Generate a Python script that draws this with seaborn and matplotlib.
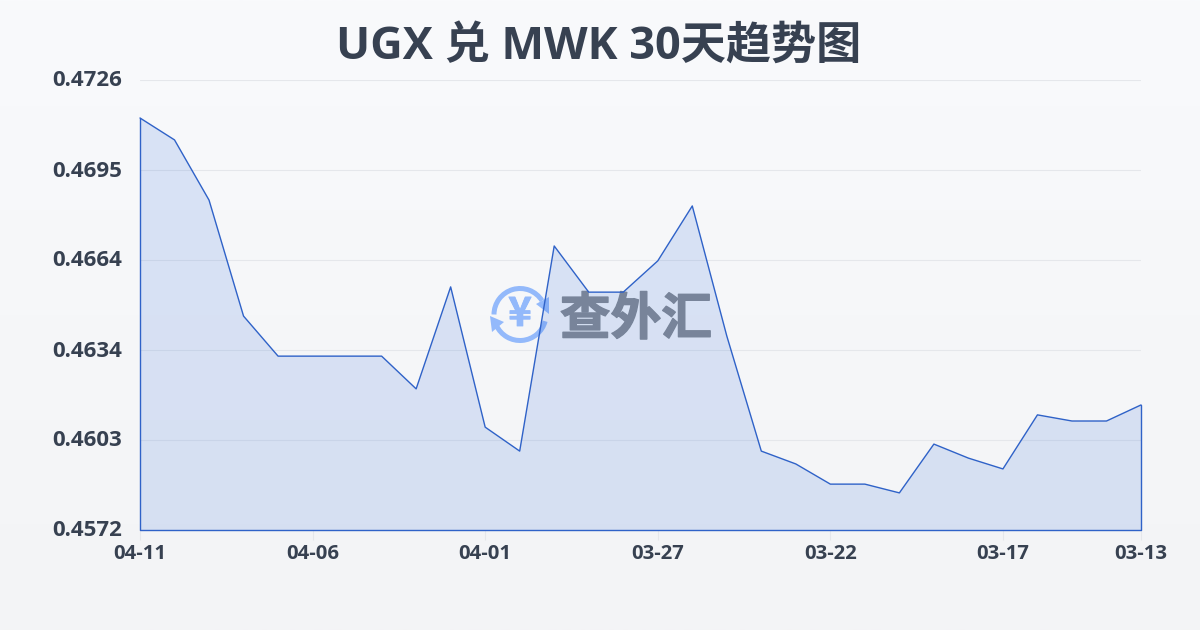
import numpy as np
import matplotlib
matplotlib.use("Agg")
import matplotlib.pyplot as plt
import matplotlib.patheffects as pe
from matplotlib.patches import Arc, Polygon
from matplotlib.colors import LinearSegmentedColormap
from matplotlib.transforms import ScaledTranslation
import pandas as pd
import seaborn as sns

dates = ["04-11","04-10","04-09","04-08","04-07","04-06","04-05","04-04","04-03","04-02",
         "04-01","03-31","03-30","03-29","03-28","03-27","03-26","03-25","03-24","03-23",
         "03-22","03-21","03-20","03-19","03-18","03-17","03-16","03-15","03-14","03-13"]
rates = [0.4713,0.47055,0.46849,0.46452,0.46315,0.46315,0.46315,0.46315,0.46203,0.46552,
         0.46072,0.4599,0.46692,0.46534,0.46534,0.46641,0.46829,0.46384,0.4599,0.45946,
         0.45877,0.45877,0.45847,0.46014,0.45966,0.45929,0.46114,0.46093,0.46093,0.46148]
ytick_values = [0.4572,0.46028,0.46336,0.46644,0.46952,0.4726]
ytick_labels = ["0.4572","0.4603","0.4634","0.4664","0.4695","0.4726"]
xtick_labels = ["04-11","04-06","04-01","03-27","03-22","03-17","03-13"]
title = "UGX 兑 MWK 30天趋势图"
watermark = "查外汇"

sns.set_theme(style="white")
plt.rcParams['font.family'] = ['Open Sans', 'Noto Sans CJK SC', 'DejaVu Sans']
INK = "#374151"
LINE = "#2f62c8"

fig = plt.figure(figsize=(12, 6.3), dpi=100)
W, H = 1200, 630

bg = fig.add_axes([0, 0, 1, 1], zorder=0)
cmap = LinearSegmentedColormap.from_list("bg", ["#f9fafc", "#f3f4f6"])
bg.imshow(np.linspace(0, 1, 256)[:, None], aspect="auto", cmap=cmap, extent=[0, 1, 0, 1])
bg.axis("off")

ax = fig.add_axes([140/W, 1-530/H, 1001/W, 450/H], zorder=2)
ax.patch.set_alpha(0)
df = pd.DataFrame({"date": dates, "rate": rates, "pos": np.arange(len(dates))})
ax.yaxis.grid(True, color="#e5e7eb", lw=0.8)
ax.set_axisbelow(True)
ax.fill_between(df["pos"], df["rate"], ytick_values[0], facecolor=(0.23, 0.45, 0.86, 0.16),
                edgecolor="none", zorder=2)
ax.plot([0, 0, len(dates)-1, len(dates)-1], [rates[0], ytick_values[0], ytick_values[0], rates[-1]],
        color=LINE, lw=1, zorder=3, clip_on=False)
sns.lineplot(data=df, x="pos", y="rate", ax=ax, color=LINE, lw=1, zorder=3, clip_on=False,
             errorbar=None, sort=False)
ax.set_xlim(0, len(dates)-1)
ax.set_ylim(ytick_values[0], ytick_values[-1])
ax.set_xlabel(""); ax.set_ylabel("")
ax.set_yticks(ytick_values, ytick_labels)
ax.set_xticks([dates.index(d) for d in xtick_labels], xtick_labels)
ax.tick_params(axis="y", length=0, pad=13, labelsize=16, labelcolor=INK)
ax.tick_params(axis="x", length=7.2, width=0.8, color="#e5e7eb", pad=3, labelsize=14.6, labelcolor=INK, bottom=True)
for t in ax.get_xticklabels() + ax.get_yticklabels():
    t.set_fontweight("bold")
shift_up = ScaledTranslation(0, 1.5/100, fig.dpi_scale_trans)
for t in ax.get_yticklabels():
    t.set_transform(t.get_transform() + shift_up)
sns.despine(ax=ax, left=True, bottom=True)

fig.text(599/W, 1-47/H, title, ha="center", va="center", fontsize=32.5, fontweight="bold",
         color=INK, family=['Open Sans', 'Noto Sans CJK SC', 'DejaVu Sans'])

ov = fig.add_axes([0, 0, 1, 1], zorder=1)
ov.set_xlim(0, W); ov.set_ylim(H, 0); ov.axis("off"); ov.patch.set_alpha(0)
LOGO = "#93b9fb"
cx, cy, r = 520, 314.5, 26
ov.add_patch(Arc((cx, cy), 2*r, 2*r, theta1=180, theta2=328, color=LOGO, lw=3.6))
ov.add_patch(Arc((cx, cy), 2*r, 2*r, theta1=15, theta2=155, color=LOGO, lw=3.6))
ov.add_patch(Polygon([(490, 316), (504, 322), (492, 332)], closed=True, color=LOGO, lw=0))
ov.add_patch(Polygon([(536, 304), (549, 297), (549, 314)], closed=True, color=LOGO, lw=0))
ov.text(cx, cy, "¥", ha="center", va="center", fontsize=29, fontweight="bold", color=LOGO,
        family=['Noto Sans CJK SC'],
        path_effects=[pe.withStroke(linewidth=0.6, foreground=LOGO)])
ov.text(636, 320, watermark, ha="center", va="center", fontsize=36.5, fontweight="black",
        color="#84888e", family=['Noto Sans CJK SC'],
        path_effects=[pe.withStroke(linewidth=1.0, foreground="#84888e")])

fig.savefig("out.png", dpi=100)
